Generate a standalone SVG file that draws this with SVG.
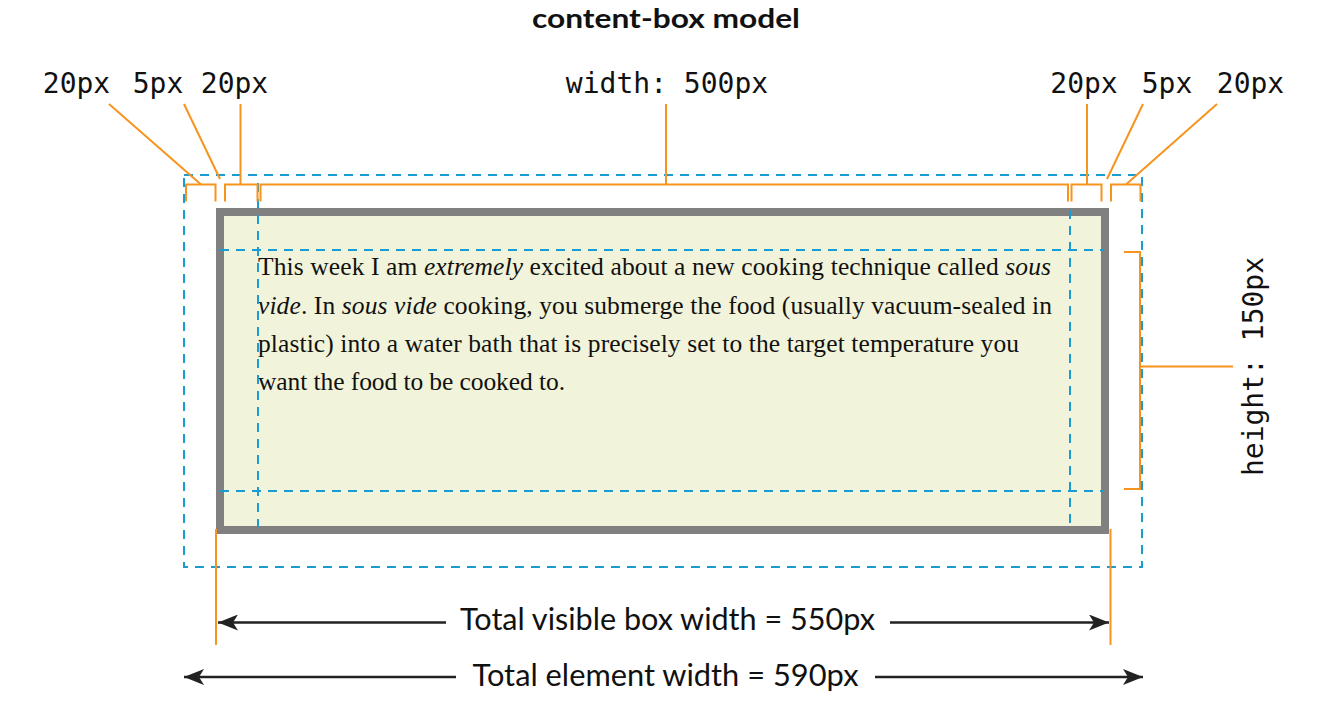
<svg xmlns="http://www.w3.org/2000/svg" width="1321" height="721" viewBox="0 0 1321 721">
  <style>
    .mono { font-family: "DejaVu Sans Mono", "Liberation Mono", monospace; font-size: 28px; fill: #111; }
    .sans { font-family: "Lato", "Open Sans", "Liberation Sans", sans-serif; fill: #111; }
    .serif { font-family: "Liberation Serif", "Times New Roman", serif; font-size: 25.5px; fill: #111; }
    .orange { fill: none; stroke: #F7941E; stroke-width: 2; }
    .blue { fill: none; stroke: #1A9BD1; stroke-width: 2; stroke-dasharray: 9 7; }
    .arrow { fill: none; stroke: #222; stroke-width: 2.5; marker-end: url(#ah); }
  </style>
  <defs>
    <marker id="ah" viewBox="0 0 20 16" refX="20" refY="8" markerWidth="20" markerHeight="16" markerUnits="userSpaceOnUse" orient="auto">
      <path d="M0,0 L20,8 L0,16 L5,8 Z" fill="#222"/>
    </marker>
  </defs>
  <rect width="1321" height="721" fill="#ffffff"/>

  <g id="title">
    <text class="sans" x="666" y="28" text-anchor="middle" font-size="27" font-weight="700" textLength="268" lengthAdjust="spacingAndGlyphs">content-box model</text>
  </g>

  <g id="margin-box">
    <rect class="blue" x="184" y="175" width="958" height="392"/>
  </g>

  <g id="border-box">
    <rect x="220" y="212" width="885" height="318" fill="#F1F4DA" stroke="#808080" stroke-width="8"/>
  </g>

  <g id="content-text">
    <text class="serif" x="258" y="275" textLength="793" lengthAdjust="spacing">This week I am <tspan font-style="italic">extremely</tspan> excited about a new cooking technique called <tspan font-style="italic">sous</tspan></text>
    <text class="serif" x="258" y="314" textLength="794" lengthAdjust="spacing"><tspan font-style="italic">vide</tspan>. In <tspan font-style="italic">sous vide</tspan> cooking, you submerge the food (usually vacuum-sealed in</text>
    <text class="serif" x="258" y="352" textLength="761" lengthAdjust="spacing">plastic) into a water bath that is precisely set to the target temperature you</text>
    <text class="serif" x="258" y="390" textLength="307" lengthAdjust="spacing">want the food to be cooked to.</text>
  </g>

  <g id="padding-guides">
    <line class="blue" x1="220" y1="250" x2="1104" y2="250"/>
    <line class="blue" x1="220" y1="491" x2="1104" y2="491"/>
    <line class="blue" x1="258" y1="183" x2="258" y2="527"/>
    <line class="blue" x1="1070" y1="210" x2="1070" y2="527"/>
  </g>

  <g id="labels">
    <text class="mono" x="76.5" y="93" text-anchor="middle">20px</text>
    <text class="mono" x="158" y="93" text-anchor="middle">5px</text>
    <text class="mono" x="234.5" y="93" text-anchor="middle">20px</text>
    <text class="mono" x="667" y="93" text-anchor="middle">width: 500px</text>
    <text class="mono" x="1084" y="93" text-anchor="middle">20px</text>
    <text class="mono" x="1167" y="93" text-anchor="middle">5px</text>
    <text class="mono" x="1250.5" y="93" text-anchor="middle">20px</text>
    <text class="mono" transform="translate(1263,366.5) rotate(-90)" text-anchor="middle">height: 150px</text>
    <text class="sans" x="667.5" y="630" text-anchor="middle" font-size="30" textLength="415" lengthAdjust="spacingAndGlyphs">Total visible box width = 550px</text>
    <text class="sans" x="665.5" y="686" text-anchor="middle" font-size="30" textLength="386" lengthAdjust="spacingAndGlyphs">Total element width = 590px</text>
  </g>

  <g id="connectors">
    <path class="orange" d="M186,201.5 V184.5 H215.5 V201.5"/>
    <path class="orange" d="M225,201.5 V184.5 H257.5 V201.5"/>
    <path class="orange" d="M260.5,201.5 V184.5 H1068 V201.5"/>
    <path class="orange" d="M1071.5,201.5 V184.5 H1101.5 V201.5"/>
    <path class="orange" d="M1111,201.5 V184.5 H1140.5 V201.5"/>
    <line class="orange" x1="109" y1="104" x2="201" y2="184.5"/>
    <line class="orange" x1="184" y1="104" x2="220" y2="179"/>
    <line class="orange" x1="240.5" y1="104" x2="240.5" y2="184.5"/>
    <line class="orange" x1="666" y1="104" x2="666" y2="184.5"/>
    <line class="orange" x1="1087" y1="104" x2="1087" y2="184.5"/>
    <line class="orange" x1="1143" y1="104" x2="1107" y2="179"/>
    <line class="orange" x1="1217" y1="104" x2="1126" y2="184.5"/>
    <path class="orange" d="M1124,252 H1140 V489 H1124"/>
    <line class="orange" x1="1140" y1="366.5" x2="1233" y2="366.5"/>
    <line class="orange" x1="216" y1="529" x2="216" y2="645"/>
    <line class="orange" x1="1110.5" y1="529" x2="1110.5" y2="645"/>
    <line class="arrow" x1="446" y1="622.5" x2="218" y2="622.5"/>
    <line class="arrow" x1="890" y1="622.5" x2="1109" y2="622.5"/>
    <line class="arrow" x1="456" y1="677" x2="184" y2="677"/>
    <line class="arrow" x1="875" y1="677" x2="1143" y2="677"/>
  </g>
</svg>
